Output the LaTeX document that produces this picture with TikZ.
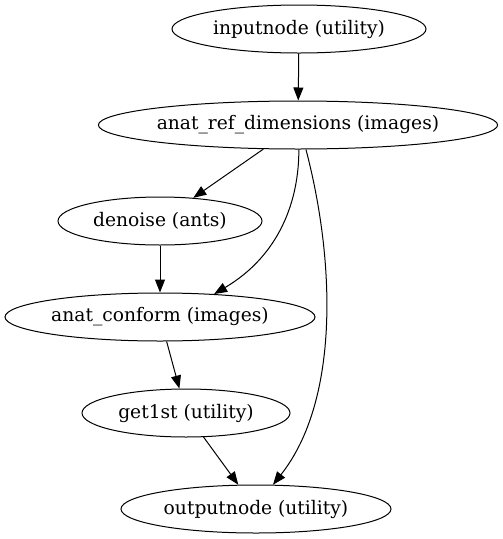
\documentclass[tikz,border=0pt]{standalone}
\usepackage{fontspec}
\setmainfont{DejaVu Serif}
\usetikzlibrary{shapes.geometric,arrows.meta}
\begin{document}
\begin{tikzpicture}[x=1pt,y=-1pt,
  nd/.style={ellipse,draw,line width=1pt,inner sep=0pt,minimum height=48pt,font=\fontsize{18.67}{22}\selectfont},
  edge/.style={draw,line width=1pt,-{Triangle[length=13pt,width=10pt]}}]
\useasboundingbox (0,0) rectangle (503,539);
\node[nd,minimum width=254pt] (in) at (299,29) {inputnode (utility)};
\node[nd,minimum width=396pt] (ref) at (298,125) {anat\_ref\_dimensions (images)};
\node[nd,minimum width=204pt] (den) at (160,221) {denoise (ants)};
\node[nd,minimum width=310pt] (conf) at (160,317) {anat\_conform (images)};
\node[nd,minimum width=208pt] (get) at (186,413) {get1st (utility)};
\node[nd,minimum width=270pt] (out) at (256,509) {outputnode (utility)};
\draw[edge] (in) -- (ref);
\draw[edge] (ref) -- (den);
\draw[edge] (ref.-88) .. controls (299,200) and (280,255) .. (conf.23);
\draw[edge] (ref.-72) .. controls (335,260) and (340,400) .. (out.55);
\draw[edge] (den) -- (conf);
\draw[edge] (conf) -- (get);
\draw[edge] (get) -- (out);
\end{tikzpicture}
\end{document}
